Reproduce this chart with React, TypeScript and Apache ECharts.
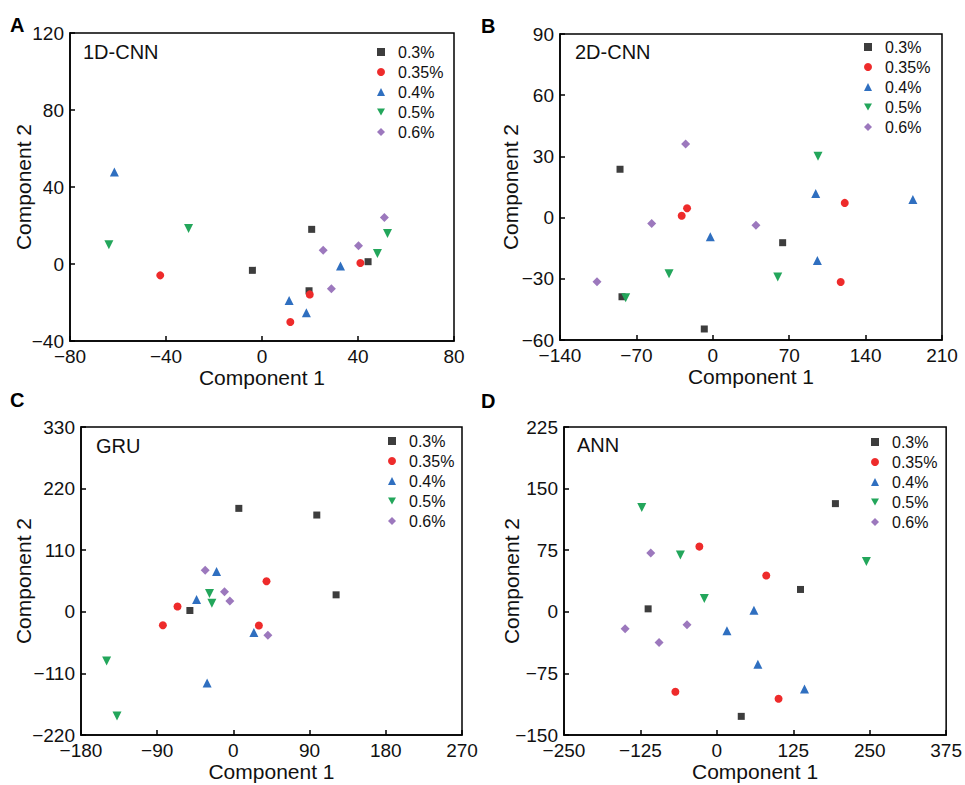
import React, { useEffect, useRef } from "react";
import * as echarts from "echarts";

const LEVELS = ["0.3%", "0.35%", "0.4%", "0.5%", "0.6%"];
const COLORS = ["#3d3d3d", "#ee2b2b", "#2f6fc0", "#23a65b", "#9c78bd"];
const SYMBOLS = ["rect", "circle", "triangle", "triangle", "diamond"];
const LEGEND_ICONS = ["rect", "circle", "triangle", "path://M0,0L10,0L5,9Z", "diamond"];
const ROTATES = [0, 0, 0, 180, 0];
const SIZES = [7, 8, 9, 9, 9];

const PANEL_LETTERS = ["A", "B", "C", "D"];
const MODEL_NAMES = ["1D-CNN", "2D-CNN", "GRU", "ANN"];

// Panel A: 1D-CNN
const A_03 = [[-4.0, -3.3], [20.7, 18.0], [19.6, -13.9], [44.2, 1.2]];
const A_035 = [[-42.4, -5.9], [19.9, -15.8], [11.8, -30.1], [41.0, 0.5]];
const A_04 = [[-61.5, 47.8], [11.3, -18.9], [18.5, -25.3], [32.7, -1.0]];
const A_05 = [[-63.8, 10.0], [-30.6, 18.5], [48.1, 5.4], [52.3, 15.8]];
const A_06 = [[25.5, 7.1], [28.9, -12.8], [40.2, 9.5], [51.0, 24.2]];

// Panel B: 2D-CNN
const B_03 = [[-85.0, 23.7], [-83.2, -38.8], [-7.8, -54.6], [64.0, -12.3]];
const B_035 = [[-28.5, 0.9], [-23.6, 4.6], [120.9, 7.2], [117.2, -31.6]];
const B_04 = [[-2.3, -9.4], [94.3, 11.8], [95.8, -21.0], [183.3, 8.9]];
const B_05 = [[-79.8, -39.3], [-40.1, -27.5], [59.5, -29.1], [96.4, 30.1]];
const B_06 = [[-106.1, -31.4], [-56.0, -2.9], [-24.9, 36.1], [39.5, -3.8]];

// Panel C: GRU
const C_03 = [[-51.4, 2.3], [6.4, 184.7], [98.5, 172.8], [121.3, 30.3]];
const C_035 = [[-83.3, -23.9], [-66.0, 9.4], [39.1, 54.7], [30.1, -24.5]];
const C_04 = [[-43.5, 21.9], [-19.9, 72.0], [24.2, -37.1], [-31.0, -127.0]];
const C_05 = [[-149.7, -87.7], [-137.5, -186.1], [-28.2, 32.7], [-25.4, 15.4]];
const C_06 = [[-33.3, 74.4], [-10.5, 35.6], [-4.2, 19.5], [40.7, -41.8]];

// Panel D: ANN
const D_03 = [[-112.4, 3.6], [136.8, 27.2], [193.9, 131.7], [39.9, -127.3]];
const D_035 = [[-28.6, 79.4], [80.8, 44.2], [-67.8, -97.3], [100.9, -105.8]];
const D_04 = [[60.6, 2.0], [16.5, -23.1], [67.1, -64.0], [143.3, -94.0]];
const D_05 = [[-122.8, 126.9], [-59.7, 69.3], [-20.5, 16.2], [244.5, 61.2]];
const D_06 = [[-108.1, 71.7], [-150.0, -20.7], [-94.5, -37.3], [-48.8, -15.8]];

const PANEL_DATA = [
  [A_03, A_035, A_04, A_05, A_06],
  [B_03, B_035, B_04, B_05, B_06],
  [C_03, C_035, C_04, C_05, C_06],
  [D_03, D_035, D_04, D_05, D_06],
];

// axis ranges [min, max, interval]
const X_RANGES = [[-80, 80, 40], [-140, 210, 70], [-180, 270, 90], [-250, 375, 125]];
const Y_RANGES = [[-40, 120, 40], [-60, 90, 30], [-220, 330, 110], [-150, 225, 75]];

const FONT = "'Liberation Sans', Arial, Helvetica, sans-serif";

// layout
const GRIDS = [
  { left: 70, top: 33, width: 384, height: 308 },
  { left: 560, top: 34, width: 382, height: 306 },
  { left: 81, top: 427, width: 381, height: 308 },
  { left: 564, top: 427, width: 383, height: 308 },
];
const Y_NAME_GAPS = [36, 39, 47, 42];
const LEGEND_POS = [
  { left: 377, top: 44 },
  { left: 864, top: 39 },
  { left: 388, top: 433 },
  { left: 871, top: 434 },
];
const LETTER_POS = [
  { x: 10, y: 25 },
  { x: 481, y: 26 },
  { x: 10, y: 400 },
  { x: 481, y: 401 },
];
const NAME_POS = [
  { x: 83, y: 52 },
  { x: 575, y: 52 },
  { x: 96, y: 446 },
  { x: 577, y: 445 },
];

const minusFmt = (v: number) => String(v).replace("-", "\u2212");

export default function App() {
  const ref = useRef<HTMLDivElement>(null);
  useEffect(() => {
    if (!ref.current) return;
    const chart = echarts.init(ref.current, undefined, { renderer: "svg" });
    const grid = GRIDS.map((g) => ({
      ...g,
      show: true,
      borderColor: "#000",
      borderWidth: 1.5,
      backgroundColor: "transparent",
    }));
    const xAxis = X_RANGES.map((r, i) => ({
      type: "value",
      gridIndex: i,
      min: r[0],
      max: r[1],
      interval: r[2],
      name: "Component 1",
      nameLocation: "middle",
      nameGap: 26,
      nameMoveOverlap: false,
      nameTextStyle: { fontFamily: FONT, fontSize: 21, color: "#111" },
      axisLine: { show: true, onZero: false, lineStyle: { color: "#000", width: 1.5 } },
      axisTick: { show: true, inside: true, length: 5, lineStyle: { color: "#000", width: 1.5 } },
      axisLabel: {
        fontFamily: FONT,
        fontSize: 19,
        lineHeight: 12,
        color: "#111",
        margin: 9,
        formatter: minusFmt,
      },
      splitLine: { show: false },
    }));
    const yAxis = Y_RANGES.map((r, i) => ({
      type: "value",
      gridIndex: i,
      min: r[0],
      max: r[1],
      interval: r[2],
      name: "Component 2",
      nameLocation: "middle",
      nameGap: Y_NAME_GAPS[i],
      nameMoveOverlap: false,
      nameTextStyle: { fontFamily: FONT, fontSize: 21, color: "#111" },
      axisLine: { show: true, onZero: false, lineStyle: { color: "#000", width: 1.5 } },
      axisTick: { show: true, inside: true, length: 5, lineStyle: { color: "#000", width: 1.5 } },
      axisLabel: {
        fontFamily: FONT,
        fontSize: 19,
        lineHeight: 12,
        color: "#111",
        margin: 6,
        formatter: minusFmt,
      },
      splitLine: { show: false },
    }));
    const series: any[] = [];
    PANEL_DATA.forEach((panel, p) => {
      panel.forEach((pts, k) => {
        series.push({
          type: "scatter",
          name: LEVELS[k],
          xAxisIndex: p,
          yAxisIndex: p,
          data: pts,
          symbol: SYMBOLS[k],
          symbolRotate: ROTATES[k],
          symbolSize: SIZES[k],
          itemStyle: { color: COLORS[k], opacity: 1 },
        });
      });
    });
    const legend = LEGEND_POS.map((pos) => ({
      ...pos,
      orient: "vertical",
      itemWidth: 8,
      itemHeight: 8,
      itemGap: 4,
      padding: 0,
      symbolRotate: 0,
      data: LEVELS.map((n, k) => ({ name: n, icon: LEGEND_ICONS[k] })),
      textStyle: {
        fontFamily: FONT,
        fontSize: 16,
        lineHeight: 16,
        color: "#111",
        padding: [0, 0, 0, 8],
      },
    }));
    const graphic: any[] = [];
    PANEL_LETTERS.forEach((t, i) => {
      graphic.push({
        type: "text",
        x: LETTER_POS[i].x,
        y: LETTER_POS[i].y,
        style: {
          text: t,
          fontFamily: FONT,
          fontWeight: "bold",
          fontSize: 20,
          fill: "#000",
          verticalAlign: "middle",
        },
      });
    });
    MODEL_NAMES.forEach((t, i) => {
      graphic.push({
        type: "text",
        x: NAME_POS[i].x,
        y: NAME_POS[i].y,
        style: {
          text: t,
          fontFamily: FONT,
          fontSize: 20,
          fill: "#111",
          verticalAlign: "middle",
        },
      });
    });
    chart.setOption({
      animation: false,
      backgroundColor: "#fff",
      grid,
      xAxis,
      yAxis,
      legend,
      series,
      graphic,
    });
    return () => chart.dispose();
  }, []);
  return (
    <div
      ref={ref}
      style={{ position: "absolute", left: 0, top: 0, width: 965, height: 785 }}
    />
  );
}
